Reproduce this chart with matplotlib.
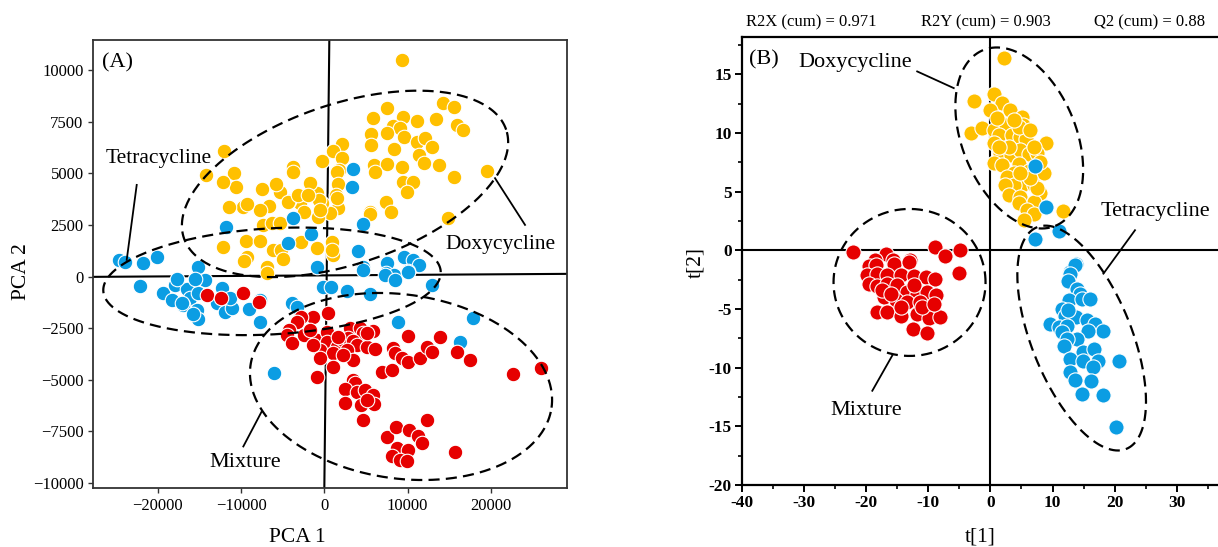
import numpy as np
import matplotlib
matplotlib.use('Agg')
import matplotlib.pyplot as plt
from matplotlib.ticker import FuncFormatter, FixedLocator

plt.rcParams['font.family'] = ['Liberation Serif', 'DejaVu Serif']

# ---- panel A : PCA scores ----
a_doxy_x = [9290, 14294, 15576, 7568, 5806, 9489, 11091, 13413, 8288, 9089, 9570, 7568, 15976, 16697,
            5606, 11091, 12092, 5566, 12972, 8368, 2082, 1001, -240, 2082, 1802, 11331, 11972, 13814,
            6006, 7568, 9289, 6086, 15575, 19580, 9489, 10691, 9970, 7407, 7968, 5486, 14815, 1481,
            1681, 1401, 1602, 681, -320, -921, -1722, -2923, -2442, -801, -841, 961, 1081, -2803,
            -4244, -5325, -5806, -7528, -6607, -7728, -9730, -9330, -11411, -10851, -10611, -12213,
            -14214, -12053, -3724, -3724, -601, -4364, -3123, -2002, -7327, -6327, -5325, -12213,
            -9410, -7728, -6206, -5245, -4925, -9330, -9650, -6927, -520, 5486, 881, 1481, -6900]
a_doxy_y = [10485, 8388, 8194, 8146, 7662, 7742, 7533, 7614, 7307, 7178, 6775, 6968, 7339, 7097,
            6904, 6533, 6726, 6371, 6291, 6178, 6404, 6097, 5597, 5726, 5162, 5887, 5484, 5404,
            5404, 5436, 5323, 5081, 4839, 5129, 4597, 4597, 4081, 3597, 3145, 3145, 2855, 5081,
            4484, 3952, 3307, 3065, 3549, 4033, 4549, 3549, 3145, 2903, 1371, 1694, 1048, 1661,
            3678, 4113, 4484, 4258, 3436, 3226, 3355, 3517, 3355, 5033, 4355, 4597,
            4920, 6097, 5323, 5081, 3710, 3629, 3952, 3952, 2500, 2613, 2581, 1452,
            1742, 1726, 1291, 1291, 839, 968, 758, 452, 3226, 3016, 1291, 3791, 150]

a_tetra_x = [3403, 3283, -3724, -11852, -1642, -4404, 4605, 4084, 9610, 10691, 11411, 7568, 10090,
             4605, -841, -15215, -20060, -21822, -24624, -23943, 7407, 8368, -22142, -19339,
             -17938, -18338, -16537, -16136, -16937, -15335, -15135, -17137, -14334, -15135,
             -15736, -12333, -12933, -11932, -11131, -11332, -9009, -7728, -7728, -3844, -3323,
             -120, 761, 2683, 5486, 8889, 12893, 17898, 16296, -6006, 7288, 8488, 10090, 4684,
             -17700, -15500]
a_tetra_y = [5194, 4323, 2855, 2387, 2065, 1613, 2532, 1258, 968, 807, 565, 645, 290,
             452, 452, 452, 936, 677, 806, 726, 161, 81, -452, -807,
             -403, -1129, -613, -1048, -1371, -1613, -2065, -1290, -161, -807,
             -1807, -565, -1290, -1694, -1532, -1048, -1581, -1129, -2178, -1290, -1452,
             -484, -484, -677, -839, -2178, -403, -2016, -3145, -4678, 81, -161, 242, 323,
             -100, -100]

a_mix_x = [-14134, -12453, -9810, -7848, 480, -1321, -2803, -3323, -4204, -4524, -3924, -2442, -921,
           280, 280, -520, 1481, 1081, -520, 1001, -921, 3083, 4284, 4684, 5886, 2282, 2883, 3403,
           3884, 5085, 6086, 2683, 3483, 2282, 6887, 8088, 8288, 8488, 9289, 10090, 10010, 11491,
           12292, 12893, 13894, 15896, 17497, 22623, 25986, 3483, 3683, 2482, 3884, 4884, 5886,
           2482, 4364, 5966, 4604, 7487, 8608, 10210, 12292, 11291, 11692, 8688, 8088, 10090,
           9089, 9970, 15696, 5085, -1321, -1722, 1681, 5085]
a_mix_y = [-887, -1048, -807, -1210, -1774, -1968, -1936, -2178, -2581, -2823, -3226, -2823, -3065,
           -2662, -3145, -3549, -3387, -3710, -3952, -4355, -4871, -2500, -2500, -2742, -2629, -3065,
           -2984, -3097, -3307, -3387, -3500, -3549, -4033, -3791, -4597, -4516, -3468, -3678, -3952,
           -4113, -2871, -3952, -3387, -3629, -2903, -3629, -4033, -4710, -4436, -5000, -5162, -5452,
           -5565, -5484, -5726, -6097, -6210, -6162, -6936, -7791, -7259, -7452, -6936, -7742, -8065,
           -8307, -8710, -8388, -8904, -8952, -8517, -2742, -3307, -2581, -2903, -5968]

# ---- panel B : PLS-DA scores ----
b_doxy_x = [2.14, -2.68, 0.54, 1.87, -0.11, 3.10, -3.10, -1.34, 5.08, 5.24, 0.54, 2.57, 1.34, 3.48,
            4.82, 0.54, 5.78, 8.99, 1.61, 3.32, 4.82, 6.15, 7.49, 0.54, 1.87, 4.55, 3.75, 6.15, 8.56,
            2.68, 5.08, 3.75, 2.41, 2.94, 6.96, 8.03, 4.82, 6.96, 4.55, 5.88, 6.96, 5.35, 11.66,
            7.49, 6.42, 2.94, 4.55, 6.42, 6.96, 8.03, 1.07, 3.75, 1.34, 4.82]
b_doxy_y = [16.38, 12.76, 13.33, 12.54, 11.97, 11.97, 10.03, 10.40, 11.40, 10.68, 10.26, 10.68, 9.83,
            9.83, 9.69, 9.12, 9.46, 9.17, 8.26, 8.12, 8.55, 8.21, 8.32, 7.41, 7.26, 7.32, 6.55, 6.78,
            6.61, 6.27, 5.56, 5.56, 5.56, 4.70, 5.56, 4.84, 4.56, 4.13, 3.99, 3.42, 3.13, 2.56, 3.36,
            5.27, 6.13, 8.83, 10.54, 10.26, 8.83, 7.55, 11.25, 11.11, 8.83, 6.55]

b_tetra_x = [7.22, 8.99, 10.97, 7.12, 13.80, 12.84, 13.64, 12.84, 12.57, 13.91, 14.45, 12.73, 14.71,
             16.05, 11.50, 12.04, 13.80, 15.52, 9.52, 10.97, 12.31, 16.86, 18.19, 15.78, 11.50,
             13.91, 12.31, 11.77, 14.98, 16.75, 12.84, 14.98, 17.39, 20.76, 12.84, 16.59, 13.64,
             16.16, 14.71, 18.08, 20.22, 12.57]
b_tetra_y = [7.18, 3.65, 1.65, 1.00, -1.14, -1.85, -1.28, -1.99, -2.62, -3.28, -3.70, -4.27, -4.13,
             -4.13, -4.99, -5.56, -5.70, -5.98, -6.32, -6.55, -6.41, -6.27, -6.84, -6.84, -6.98,
             -7.55, -7.55, -8.12, -8.69, -8.40, -9.26, -9.40, -9.40, -9.40, -10.40, -9.91, -11.05,
             -11.11, -12.25, -12.34, -15.04, -5.13]

b_mix_x = [-22.04, -8.83, -7.22, -4.82, -16.85, -18.62, -15.62, -12.95, -19.53, -18.46, -15.52,
           -13.11, -5.08, -19.80, -18.19, -16.59, -14.45, -12.31, -10.43, -8.83, -19.53, -18.19,
           -16.59, -14.98, -13.48, -11.77, -10.17, -8.67, -17.12, -15.25, -13.38, -11.24, -18.19,
           -16.59, -14.45, -11.77, -9.90, -8.03, -12.52, -10.17, -14.45, -17.39, -12.31, -16.05,
           -10.97, -9.10]
b_mix_y = [-0.14, 0.28, -0.51, 0.00, -0.28, -0.85, -0.85, -0.80, -1.37, -1.28, -1.20, -1.00, -1.94,
           -2.14, -1.99, -2.14, -2.14, -2.22, -2.28, -2.42, -2.85, -3.08, -2.85, -2.99, -3.56, -3.70,
           -3.56, -3.79, -3.99, -4.27, -4.42, -4.42, -5.27, -5.27, -5.56, -5.41, -5.75, -5.70, -6.70,
           -7.07, -4.84, -3.42, -2.99, -3.70, -4.84, -4.56]

stats_text = ['R2X (cum) = 0.971', 'R2Y (cum) = 0.903', 'Q2 (cum) = 0.88']
b_xticks = [-40, -30, -20, -10, 0, 10, 20, 30]

YELLOW = '#FFC000'
BLUE = '#0B9DE3'
RED = '#E60000'


def dashed_ellipse(ax, cx, cy, a, b, ang):
    # a, b in display pixels, rotation in display space
    t = np.linspace(0, 2 * np.pi, 400)
    ca, sa = np.cos(np.radians(ang)), np.sin(np.radians(ang))
    ex = a * np.cos(t) * ca - b * np.sin(t) * sa
    ey = a * np.cos(t) * sa + b * np.sin(t) * ca
    c = ax.transData.transform((cx, cy))
    pts = ax.transData.inverted().transform(np.column_stack([c[0] + ex, c[1] + ey]))
    ax.plot(pts[:, 0], pts[:, 1], color='black', lw=1.6, ls=(0, (5, 2.8)), zorder=5)


def label(ax, txt, pos, start, end, size=16):
    ax.text(pos[0], pos[1], txt, ha='center', va='center', fontsize=size, zorder=6)
    ax.plot([start[0], end[0]], [start[1], end[1]], color='black', lw=1.3, zorder=6)


fig = plt.figure(figsize=(12.18, 5.47), dpi=100)

# ---------------- A ----------------
axA = fig.add_axes([93.3 / 1218, 1 - 488.3 / 547, (567 - 93.3) / 1218, (488.3 - 40) / 547])
axA.set_xlim(-27750, 29150)
axA.set_ylim(-10250, 11450)
axA.scatter(a_doxy_x, a_doxy_y, s=110, c=YELLOW, edgecolors='white', linewidths=0.8, zorder=2)
axA.scatter(a_tetra_x, a_tetra_y, s=110, c=BLUE, edgecolors='white', linewidths=0.8, zorder=3)
axA.scatter(a_mix_x, a_mix_y, s=110, c=RED, edgecolors='white', linewidths=0.8, zorder=4)
axA.plot([600, 0], [11450, -10250], color='black', lw=1.5, zorder=1)
axA.plot([-27750, 29150], [-15, 130], color='black', lw=1.5, zorder=1)
axA.set_xticks([-20000, -10000, 0, 10000, 20000])
axA.set_yticks(np.arange(-10000, 10001, 2500))
axA.tick_params(labelsize=12, length=3.5, width=1, color='#333333')
for sp in axA.spines.values():
    sp.set_linewidth(1.3)
    sp.set_color('#333333')

dashed_ellipse(axA, 2487, 4485, 170, 80, 18.6)
dashed_ellipse(axA, -6282, -232, 169, 53, 3.3)
dashed_ellipse(axA, 9213, -5322, 152, 92, -8)
axA.text(-24841, 10339, '(A)', ha='center', va='center', fontsize=16)
label(axA, 'Tetracycline', (-19856, 5694), (-22535, 4436), (-23736, 808), 15.5)
label(axA, 'Doxycycline', (21201, 1534), (20505, 4761), (24108, 2501), 15.5)
label(axA, 'Mixture', (-9465, -8999), (-9730, -8225), (-7520, -6531), 16)

fig.text(297 / 1218, 1 - 537 / 547, 'PCA 1', ha='center', va='center', fontsize=15.5)
fig.text(22 / 1218, 1 - 272 / 547, 'PCA 2', ha='center', va='center', fontsize=15.5, rotation=90)

# ---------------- B ----------------
axB = fig.add_axes([741.7 / 1218, 1 - 485 / 547, (1239 - 741.7) / 1218, (485 - 36.7) / 547])
axB.set_xlim(-40, 40)
axB.set_ylim(-20, 18.2)
axB.scatter(b_doxy_x, b_doxy_y, s=120, c=YELLOW, edgecolors='white', linewidths=0.8, zorder=2)
axB.scatter(b_tetra_x, b_tetra_y, s=120, c=BLUE, edgecolors='white', linewidths=0.8, zorder=3)
axB.scatter(b_mix_x, b_mix_y, s=120, c=RED, edgecolors='white', linewidths=0.8, zorder=4)
axB.axvline(0, color='black', lw=1.5, zorder=1)
axB.axhline(0, color='black', lw=1.5, zorder=1)
axB.xaxis.set_major_locator(FixedLocator(b_xticks))
axB.xaxis.set_minor_locator(FixedLocator(np.arange(-35, 36, 10)))
axB.yaxis.set_major_locator(FixedLocator(np.arange(-20, 16, 5)))
axB.yaxis.set_minor_locator(FixedLocator(np.arange(-17.5, 18, 5)))
fmt = FuncFormatter(lambda v, p: '%d' % v)
axB.xaxis.set_major_formatter(fmt)
axB.yaxis.set_major_formatter(fmt)
axB.tick_params(which='major', labelsize=12.5, length=5, width=1.4, pad=2)
axB.tick_params(which='minor', length=3, width=1.2)
for t in axB.get_xticklabels() + axB.get_yticklabels():
    t.set_fontweight('bold')
for sp in axB.spines.values():
    sp.set_linewidth(1.6)
    sp.set_color('black')

dashed_ellipse(axB, 4.65, 9.57, 95, 57, -67.7)
dashed_ellipse(axB, -13.0, -2.74, 76, 73.5, 0)
dashed_ellipse(axB, 14.69, -7.48, 119.5, 50, -68.1)
axB.text(-36.39, 16.24, '(B)', ha='center', va='center', fontsize=16)
label(axB, 'Doxycycline', (-21.67, 15.96), (-11.77, 15.24), (-5.89, 13.82), 16)
label(axB, 'Tetracycline', (26.48, 3.27), (23.27, 1.71), (18.19, -1.99), 16)
label(axB, 'Mixture', (-19.9, -13.68), (-18.99, -11.97), (-15.78, -8.97), 16)

fig.text(980 / 1218, 1 - 537 / 547, 't[1]', ha='center', va='center', fontsize=15.5)
fig.text(696 / 1218, 1 - 262 / 547, 't[2]', ha='center', va='center', fontsize=15.5, rotation=90)

for xf, s in zip([810.8, 985.8, 1150], stats_text):
    fig.text(xf / 1218, 1 - 22 / 547, s, ha='center', va='center', fontsize=12)

fig.savefig('out.png', dpi=100)
